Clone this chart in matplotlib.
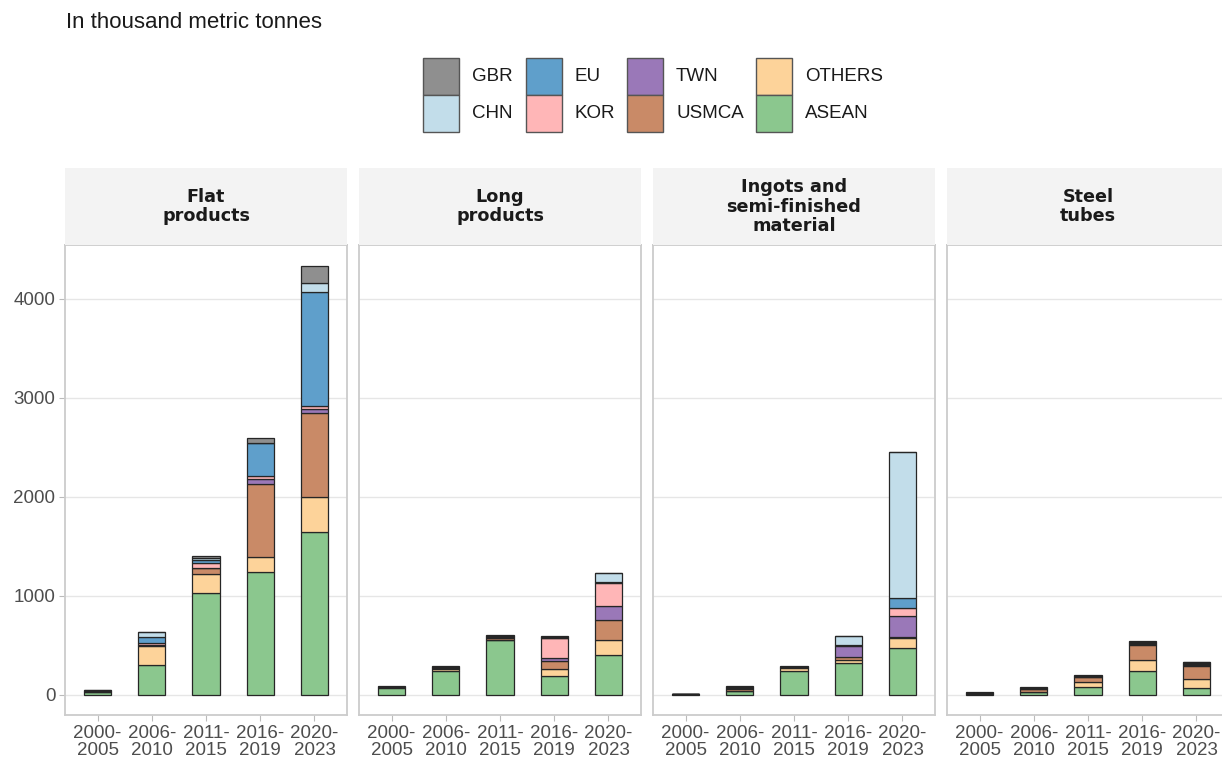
import matplotlib.pyplot as plt
from matplotlib.patches import Rectangle
import numpy as np

plt.rcParams['font.family'] = ['Liberation Sans', 'DejaVu Sans']

PRODUCTS = ["Flat\nproducts", "Long\nproducts",
            "Ingots and\nsemi-finished\nmaterial", "Steel\ntubes"]
PERIODS = ["2000-\n2005", "2006-\n2010", "2011-\n2015", "2016-\n2019", "2020-\n2023"]

# one list per product (flat, long, ingots, tubes), five periods each
ASEAN = [[25, 296, 1033, 1239, 1640], [71, 242, 548, 189, 404],
         [3, 34, 242, 320, 468], [5, 24, 81, 239, 67]]
OTHERS = [[5, 192, 189, 152, 357], [3, 21, 10, 71, 148],
          [1, 5, 24, 27, 105], [3, 5, 44, 108, 95]]
USMCA = [[5, 15, 58, 737, 855], [3, 8, 15, 77, 202],
         [1, 15, 10, 34, 8], [5, 25, 53, 155, 131]]
TWN = [[2, 3, 5, 57, 34], [2, 4, 5, 33, 145],
       [1, 10, 3, 107, 210], [3, 5, 5, 10, 10]]
KOR = [[2, 15, 45, 27, 33], [2, 4, 8, 202, 229],
       [1, 5, 2, 14, 81], [2, 5, 4, 10, 10]]
EU = [[2, 60, 27, 330, 1155], [1, 3, 5, 5, 10],
      [1, 5, 2, 3, 101], [2, 5, 4, 10, 10]]
CHN = [[2, 50, 23, 5, 84], [1, 2, 4, 5, 88],
       [1, 5, 2, 91, 1478], [2, 3, 2, 5, 5]]
GBR = [[2, 5, 17, 52, 179], [1, 2, 4, 7, 3],
       [0, 5, 1, 0, 0], [2, 2, 2, 5, 5]]

# stacking order, bottom to top
SERIES = [("ASEAN", ASEAN, "#8bc78e"), ("OTHERS", OTHERS, "#fdd39a"),
          ("USMCA", USMCA, "#c98a67"), ("TWN", TWN, "#9a78b8"),
          ("KOR", KOR, "#ffb6b7"), ("EU", EU, "#5f9fcb"),
          ("CHN", CHN, "#c2ddea"), ("GBR", GBR, "#8f8f8f")]

W, H = 1222, 762
fig = plt.figure(figsize=(W / 100, H / 100), dpi=100)

def fx(px):
    return px / W

def fy(py):
    return 1 - py / H

panel_left = [65, 359, 653, 947]
panel_w = 282
body_top, body_bot = 245, 715
strip_top = 168

x = np.arange(1, 6)
for i, left in enumerate(panel_left):
    ax = fig.add_axes([fx(left), fy(body_bot), fx(panel_w), (body_bot - body_top) / H])
    bottom = np.zeros(5)
    for name, data, color in SERIES:
        vals = np.array(data[i], dtype=float)
        ax.bar(x, vals, width=0.5, bottom=bottom, color=color,
               edgecolor="#262626", linewidth=0.9, zorder=3)
        bottom += vals
    ax.set_xlim(0.4, 5.6)
    ax.set_ylim(-205, 4545)
    ax.set_yticks([0, 1000, 2000, 3000, 4000])
    ax.grid(axis="y", color="#e6e6e6", linewidth=1, zorder=0)
    ax.set_xticks(x)
    ax.set_xticklabels(PERIODS, fontsize=13.5, color="#4d4d4d", linespacing=1.05)
    ax.tick_params(axis="x", length=4, color="#bbbbbb", pad=3)
    if i == 0:
        ax.tick_params(axis="y", length=4, color="#bbbbbb", labelsize=13.5,
                       labelcolor="#4d4d4d", pad=3)
    else:
        ax.tick_params(axis="y", length=0, labelleft=False)
    for s in ax.spines.values():
        s.set_color("#cccccc")
        s.set_linewidth(1.3)

    # facet strip
    sax = fig.add_axes([fx(left), fy(body_top), fx(panel_w), (body_top - strip_top) / H])
    sax.set_facecolor("#f3f3f3")
    sax.set_xticks([])
    sax.set_yticks([])
    for s in sax.spines.values():
        s.set_visible(False)
    sax.text(0.5, 0.5, PRODUCTS[i], ha="center", va="center", fontsize=12.7,
             fontweight="bold", family="DejaVu Sans", color="#1a1a1a",
             linespacing=1.12, transform=sax.transAxes)

fig.text(fx(66), fy(22), "In thousand metric tonnes", fontsize=16,
         color="#1a1a1a", va="center", ha="left")

# legend: two rows, four columns
legend_cols = [(423, [("GBR", "#8f8f8f"), ("CHN", "#c2ddea")]),
               (526, [("EU", "#5f9fcb"), ("KOR", "#ffb6b7")]),
               (627, [("TWN", "#9a78b8"), ("USMCA", "#c98a67")]),
               (756, [("OTHERS", "#fdd39a"), ("ASEAN", "#8bc78e")])]
key_w, key_h = 36, 37
for kx, items in legend_cols:
    for r, (label, color) in enumerate(items):
        ky = 58 + r * key_h
        fig.patches.append(Rectangle((fx(kx), fy(ky + key_h)), fx(key_w), key_h / H,
                                     transform=fig.transFigure, facecolor=color,
                                     edgecolor="#555555", linewidth=1))
        fig.text(fx(kx + key_w + 13), fy(ky + key_h / 2), label, fontsize=13.5,
                 color="#1a1a1a", va="center", ha="left")

fig.savefig("out.png", dpi=100)
